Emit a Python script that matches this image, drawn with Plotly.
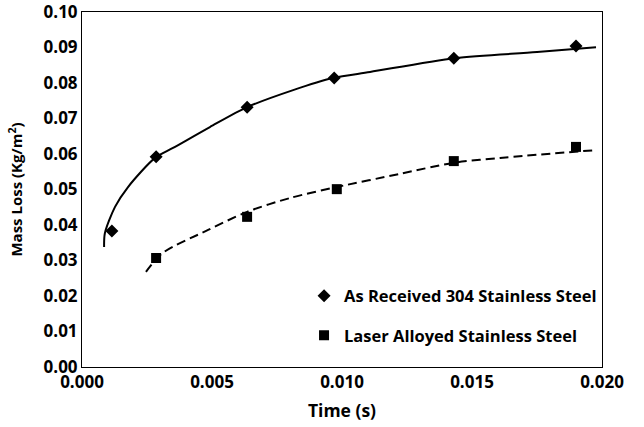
import plotly.graph_objects as go

# Measured mass loss
time_as_received = [0.00115, 0.00285, 0.00635, 0.0097, 0.0143, 0.0190]
loss_as_received = [0.0383, 0.0592, 0.0732, 0.0814, 0.0870, 0.0904]

time_laser = [0.00285, 0.00635, 0.0098, 0.0143, 0.0190]
loss_laser = [0.0307, 0.0423, 0.0501, 0.0580, 0.0620]

# Trendline samples
trend_time_as_received = [0.00085, 0.00088, 0.00127, 0.00177, 0.00281, 0.0035,
                          0.00492, 0.00635, 0.00812, 0.00965, 0.01108, 0.01435,
                          0.0175, 0.01977]
trend_loss_as_received = [0.0338, 0.0377, 0.0451, 0.0507, 0.0589, 0.0617,
                          0.0676, 0.0732, 0.0780, 0.0814, 0.0831, 0.0870,
                          0.0887, 0.0901]

trend_time_laser = [0.00246, 0.0031, 0.00485, 0.00635, 0.0080, 0.0098,
                    0.01223, 0.01427, 0.01608, 0.01977]
trend_loss_laser = [0.0268, 0.0321, 0.0386, 0.0437, 0.0476, 0.0507,
                    0.0544, 0.0575, 0.0589, 0.0611]

x_ticks = [0.000, 0.005, 0.010, 0.015, 0.020]
x_tick_labels = ["0.000", "0.005", "0.010", "0.015", "0.020"]
y_ticks = [0.00, 0.01, 0.02, 0.03, 0.04, 0.05, 0.06, 0.07, 0.08, 0.09, 0.10]
y_tick_labels = ["0.00", "0.01", "0.02", "0.03", "0.04", "0.05",
                 "0.06", "0.07", "0.08", "0.09", "0.10"]

FONT = "Open Sans"


def bold(size):
    return dict(family=FONT, size=size, color="black", weight=700)


fig = go.Figure()

fig.add_trace(go.Scatter(
    x=trend_time_as_received, y=trend_loss_as_received, mode="lines",
    line=dict(color="black", width=2, shape="spline", smoothing=0.8),
    showlegend=False, hoverinfo="skip",
))
fig.add_trace(go.Scatter(
    x=trend_time_laser, y=trend_loss_laser, mode="lines",
    line=dict(color="black", width=2, dash="9px,5px", shape="spline", smoothing=0.8),
    showlegend=False, hoverinfo="skip",
))
fig.add_trace(go.Scatter(
    x=time_as_received, y=loss_as_received, mode="markers",
    name="As Received 304 Stainless Steel", legendgroup="a",
    marker=dict(symbol="diamond", size=10, color="black"),
))
fig.add_trace(go.Scatter(
    x=time_laser, y=loss_laser, mode="markers",
    name="Laser Alloyed Stainless Steel", legendgroup="b",
    marker=dict(symbol="square", size=10, color="black"),
))

axis_common = dict(
    showgrid=False, zeroline=False, showline=True, linecolor="black",
    linewidth=1, mirror=True, ticks="", automargin=False,
    ticklabeloverflow="allow",
    tickfont=bold(17),
)

fig.update_layout(
    width=644, height=427,
    margin=dict(l=82, r=42, t=12, b=60),
    paper_bgcolor="white", plot_bgcolor="white",
    font=dict(family=FONT, color="black"),
    xaxis=dict(
        range=[0, 0.020], tickvals=x_ticks, ticktext=x_tick_labels,
        title=dict(text="Time (s)", font=bold(17.5), standoff=12),
        **axis_common,
    ),
    yaxis=dict(
        range=[0, 0.10], tickvals=y_ticks, ticktext=y_tick_labels,
        title=dict(text="Mass Loss (Kg/m<sup>2</sup>)", font=bold(15), standoff=17),
        **axis_common,
    ),
    legend=dict(
        x=0.427, y=0.145, xanchor="left", yanchor="middle",
        bgcolor="rgba(0,0,0,0)", tracegroupgap=15, itemwidth=30,
        font=bold(16.5),
    ),
)

fig.write_html("out.html")
